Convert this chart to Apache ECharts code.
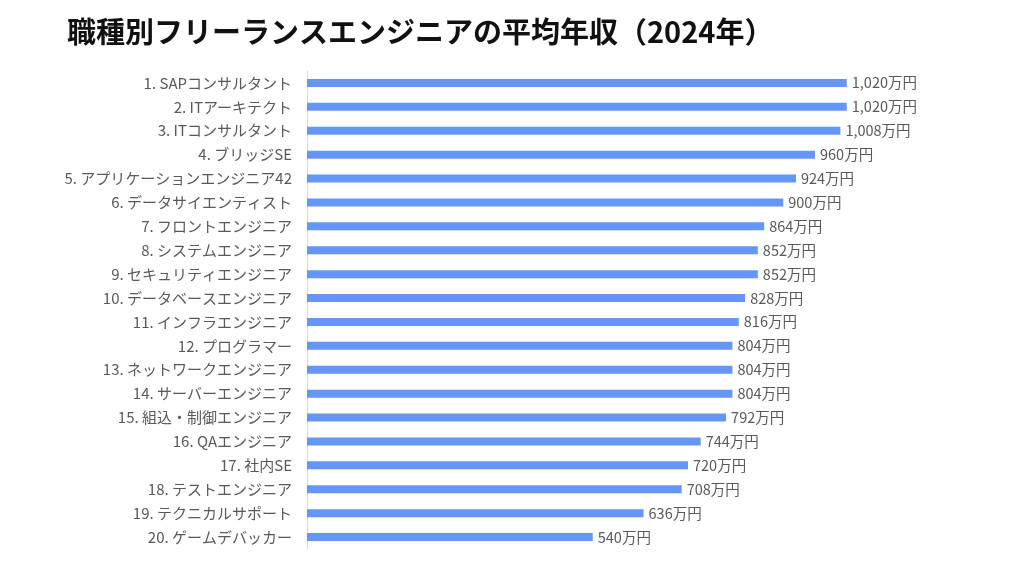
<!DOCTYPE html>
<html><head><meta charset="utf-8">
<script src="https://cdn.jsdelivr.net/npm/echarts@6/dist/echarts.min.js"></script>
<style>html,body{margin:0;padding:0;background:#fff}#c{width:1024px;height:576px}</style>
</head><body><div id="c"></div>
<script>
const title = '職種別フリーランスエンジニアの平均年収（2024年）';
const categories = ['1. SAPコンサルタント','2. ITアーキテクト','3. ITコンサルタント','4. ブリッジSE','5. アプリケーションエンジニア42','6. データサイエンティスト','7. フロントエンジニア','8. システムエンジニア','9. セキュリティエンジニア','10. データベースエンジニア','11. インフラエンジニア','12. プログラマー','13. ネットワークエンジニア','14. サーバーエンジニア','15. 組込・制御エンジニア','16. QAエンジニア','17. 社内SE','18. テストエンジニア','19. テクニカルサポート','20. ゲームデバッカー'];
const values = [1020,1020,1008,960,924,900,864,852,852,828,816,804,804,804,792,744,720,708,636,540];
const unit = '万円';

const chart = echarts.init(document.getElementById('c'));
chart.setOption({
  animation:false,
  title:{text:title,left:62,top:12,textStyle:{fontFamily:'Noto Sans CJK JP',fontWeight:'bold',fontSize:29,color:'#111'}},
  grid:{left:307,top:71,bottom:27,right:82},
  xAxis:{type:'value',min:0,max:1200,show:false},
  yAxis:{type:'category',inverse:true,data:categories,
    axisLine:{lineStyle:{color:'#d9d9d9'}},axisTick:{show:false},
    axisLabel:{color:'#595959',fontSize:15,margin:15,fontFamily:'Noto Sans CJK JP'}},
  series:[{type:'bar',data:values,barWidth:8,itemStyle:{color:'#6495F7'},
    label:{show:true,position:'right',distance:5,color:'#595959',fontSize:14.5,fontFamily:'Noto Sans CJK JP',
      formatter:p=>p.value.toLocaleString('en-US')+unit}}]
});
</script></body></html>
